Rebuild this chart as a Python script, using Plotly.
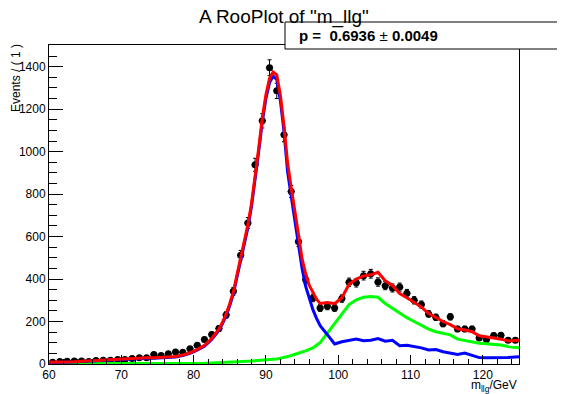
import numpy as np
import plotly.graph_objects as go

# ---------------- data ----------------
bin_centers = np.arange(60.5, 125.0, 1.0)
data_counts = [8, 12, 13, 14, 14, 12, 16, 18, 18, 21,
               21, 26, 29, 29, 45, 40, 48, 57, 55, 72,
               88, 115, 139, 167, 231, 342, 512, 664, 938, 1145,
               1395, 1286, 1079, 812, 577, 397, 311, 264, 272, 264,
               308, 385, 382, 416, 425, 386, 369, 358, 362, 333,
               300, 280, 236, 220, 189, 222, 165, 165, 165, 123,
               115, 134, 135, 112, 112]

curve_x = np.concatenate([[60.0], np.arange(60.5, 84.0, 1.0),
                          np.arange(84.0, 98.0, 0.5),
                          np.arange(98.5, 125.0, 1.0), [125.0]])

green_vals = [1, 1, 1, 1, 1, 1, 1, 1, 1, 1, 1, 1, 1, 1, 2, 2, 2, 2, 2, 2, 3, 3, 4, 5, 6,
              7, 7, 8, 9, 10, 11, 12, 13, 14, 15, 16, 17, 18, 20, 22, 24, 27, 30, 35, 40,
              45, 50, 56, 62, 69, 76, 88, 100,
              145, 190, 238, 280, 302, 314, 318, 314, 285, 262, 241, 218, 200, 180, 164,
              152, 145, 137, 117, 110, 105, 98, 95, 93, 89, 82, 78, 76]

blue_vals = [7, 7, 8, 9, 10, 12, 14, 16, 18, 20, 22, 24, 26, 27, 27, 27, 28, 30, 33, 40,
             50, 65, 84, 115, 158,
             190, 228, 275, 330, 410, 490, 565, 640, 740, 860, 1000, 1140, 1250, 1325,
             1355, 1340, 1240, 1095, 905, 790, 680, 570, 450, 365, 305, 256, 215, 180,
             138, 94, 105, 112, 118, 110, 112, 120, 107, 112, 86, 88, 82, 76, 66, 68, 58,
             52, 45, 52, 40, 30, 29, 29, 29, 31, 33, 34]

red_vals = [8, 8, 9, 10, 11, 13, 15, 17, 19, 21, 23, 25, 27, 28, 29, 29, 30, 32, 35, 42,
            53, 68, 88, 120, 164,
            197, 236, 285, 340, 420, 500, 578, 655, 755, 875, 1015, 1158, 1268, 1345,
            1375, 1362, 1265, 1120, 945, 830, 730, 610, 495, 425, 370, 335, 305, 285,
            290, 284, 312, 375, 400, 415, 420, 432, 392, 370, 332, 312, 292, 268, 238,
            218, 200, 185, 166, 160, 152, 133, 126, 122, 117, 108, 111, 112]

x_ticks = [60, 70, 80, 90, 100, 110, 120]
y_ticks = [0, 200, 400, 600, 800, 1000, 1200, 1400]

title_text = 'A RooPlot of "m_llg"'
stat_text = '<b>p =&nbsp; 0.6936 </b>±<b> 0.0049</b>'
x_title = 'm<sub>llg</sub>/GeV'
y_title = 'Events / ( 1 )'

# ---------------- layout geometry ----------------
# the page body has an 8px margin; all page-pixel positions are shifted by OFF
OFF = 8
W, H = 565 - OFF, 394 - OFF
L, R, T, B = 49 - OFF, 46, 45 - OFF, 30
PW, PH = W - L - R, H - T - B
FONT = "Liberation Sans, Arial, Helvetica, sans-serif"


def px_x(p):
    return (p - OFF - L) / PW


def px_y(p):
    return (H - B - (p - OFF)) / PH


fig = go.Figure()

fig.add_trace(go.Scatter(
    x=bin_centers, y=data_counts, mode="markers",
    marker=dict(color="black", size=7),
    error_y=dict(type="data", array=np.sqrt(data_counts), thickness=1, width=2, color="black"),
    error_x=dict(type="constant", value=0.5, thickness=1, width=0, color="black"),
    showlegend=False))

fig.add_trace(go.Scatter(x=curve_x, y=green_vals, mode="lines",
                         line=dict(color="#00ff00", width=3), showlegend=False))
fig.add_trace(go.Scatter(x=curve_x, y=blue_vals, mode="lines",
                         line=dict(color="#0000ff", width=3), showlegend=False))
fig.add_trace(go.Scatter(x=curve_x, y=red_vals, mode="lines",
                         line=dict(color="#ff0000", width=3), showlegend=False))

fig.update_layout(
    width=W, height=H,
    margin=dict(l=L, r=R, t=T, b=B, pad=0, autoexpand=False),
    paper_bgcolor="white", plot_bgcolor="white",
    font=dict(family=FONT, size=12, color="black"),
    xaxis=dict(range=[60, 125], tickvals=x_ticks, ticks="inside", ticklen=9,
               tickcolor="black", showline=True, linecolor="black", linewidth=1,
               mirror=True, showgrid=False, zeroline=False, automargin=False,
               tickfont=dict(size=12, family=FONT, color="black"),
               minor=dict(dtick=2, tick0=60, ticks="inside", ticklen=5, tickcolor="black",
                          showgrid=False)),
    yaxis=dict(range=[0, 1502], tickvals=y_ticks, ticks="inside", ticklen=14,
               tickcolor="black", showline=True, linecolor="black", linewidth=1,
               mirror=True, showgrid=False, zeroline=False, automargin=False,
               tickfont=dict(size=12, family=FONT, color="black"),
               minor=dict(dtick=50, tick0=0, ticks="inside", ticklen=8, tickcolor="black",
                          showgrid=False)),
)

# title
fig.add_annotation(text=title_text, xref="paper", yref="paper",
                   x=px_x(284), y=px_y(17), xanchor="center", yanchor="middle",
                   showarrow=False, font=dict(size=19, family=FONT, color="black"))

# stat box
fig.add_shape(type="rect", xref="paper", yref="paper",
              x0=px_x(285), x1=px_x(563), y0=px_y(49), y1=px_y(22),
              line=dict(color="black", width=1), fillcolor="white", layer="above")
fig.add_annotation(text=stat_text, xref="paper", yref="paper",
                   x=px_x(297), y=px_y(36), xanchor="left", yanchor="middle",
                   showarrow=False, font=dict(size=15, family=FONT, color="black"))

# axis titles
fig.add_annotation(text=x_title, xref="paper", yref="paper",
                   x=px_x(519), y=px_y(376), xanchor="right", yanchor="top",
                   showarrow=False, font=dict(size=12, family=FONT, color="black"))
fig.add_annotation(text=y_title, xref="paper", yref="paper",
                   x=px_x(16), y=px_y(42), xanchor="center", yanchor="top",
                   textangle=-90, showarrow=False,
                   font=dict(size=12, family=FONT, color="black"))

fig.write_html("out.html")
